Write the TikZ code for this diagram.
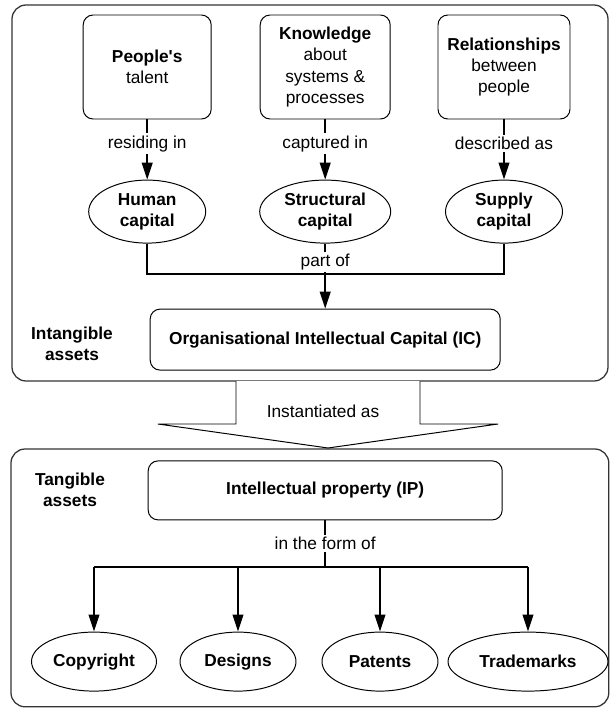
\documentclass[tikz,border=0pt]{standalone}
\usepackage{fontspec}
\setsansfont{Liberation Sans}[Ligatures=TeXOff]
\usetikzlibrary{positioning,arrows.meta,shapes.geometric,calc}

\newcommand\icfont{\fontsize{12.3}{15}\selectfont\sffamily}

\begin{document}
\begin{tikzpicture}[
      font=\icfont,
      panel/.style={draw=black!80, line width=0.9pt, rounded corners=10pt},
      src/.style={draw, line width=0.7pt, rounded corners=7pt, align=center,
                  minimum height=2.6cm, inner sep=2pt},
      wide/.style={src, minimum height=1.5cm, font=\icfont\bfseries},
      oval/.style={draw, ellipse, line width=0.7pt, align=center, inner sep=0pt,
                  font=\icfont\bfseries},
      grp/.style={align=center, font=\icfont\bfseries},
      lbl/.style={fill=white, inner sep=1.5pt},
      link/.style={line width=1.4pt},
      arr/.style={link, -{Triangle[length=12pt,width=7.5pt]}}
    ]
    \useasboundingbox (0,0) rectangle (15.25,-17.75);

    % the two groups of assets
    \draw[panel] (0.3,-0.125) rectangle (15.2,-9.525);
    \draw[panel] (0.275,-11.225) rectangle (15.22,-17.67);

    % where the capital comes from
    \node[src, minimum width=3.2cm]  (talent) at (3.68,-1.675) {\textbf{People's}\\talent};
    \node[src, minimum width=3.25cm] (know)   at (8.13,-1.675) {\textbf{Knowledge}\\about\\systems \&\\processes};
    \node[src, minimum width=3.3cm]  (rel)    at (12.6,-1.675) {\textbf{Relationships}\\between\\people};

    % kinds of capital
    \node[oval, minimum width=2.925cm, minimum height=1.575cm] (human)  at (3.68,-5.29) {Human\\capital};
    \node[oval, minimum width=3.275cm, minimum height=1.575cm] (struct) at (8.13,-5.29) {Structural\\capital};
    \node[oval, minimum width=2.925cm, minimum height=1.575cm] (supply) at (12.6,-5.29) {Supply\\capital};

    \foreach \a/\b/\t in {talent/human/residing in, know/struct/captured in, rel/supply/described as}
      \draw[arr] (\a) -- node[lbl, pos=0.4] {\t} (\b);

    \node[wide, minimum width=8.75cm, minimum height=1.525cm] (ic) at (8.13,-8.49)
      {Organisational Intellectual Capital (IC)};
    \node[grp] (intang) at (1.8,-8.6) {Intangible\\assets};

    \coordinate (jn) at (8.13,-6.85);
    \draw[link] (human) -- (human |- jn) -- (supply |- jn) -- (supply);
    \draw[link] (struct) -- node[lbl, pos=0.6] {part of} (jn);
    \draw[arr] (jn) -- (ic);

    % block arrow between the groups
    \draw[line width=0.7pt, fill=white] (5.9,-9.525) -- (5.9,-10.6) -- (3.95,-10.6)
      -- (8.2,-11.2) -- (12.45,-10.6) -- (10.5,-10.6) -- (10.5,-9.525);
    \node (inst) at (8.075,-10.275) {Instantiated as};

    % tangible side
    \node[wide, minimum width=8.85cm, minimum height=1.475cm] (ip) at (8.13,-12.26)
      {Intellectual property (IP)};
    \node[grp] (tang) at (1.75,-12.25) {Tangible\\assets};

    \node[oval, minimum width=3.125cm, minimum height=1.475cm] (copy)   at (2.35,-16.54) {Copyright};
    \node[oval, minimum width=2.9cm,   minimum height=1.475cm] (design) at (5.95,-16.54) {Designs};
    \node[oval, minimum width=2.9cm,   minimum height=1.475cm] (patent) at (9.5,-16.54)  {Patents};
    \node[oval, minimum width=4.0cm,   minimum height=1.475cm] (trade)  at (13.2,-16.54) {Trademarks};

    \coordinate (fork) at (8.13,-14.175);
    \draw[link] (ip) -- node[lbl] {in the form of} (fork);
    \draw[link] (copy.north |- fork) -- (trade.north |- fork);
    \foreach \n in {copy,design,patent,trade}
      \draw[arr] (\n.north |- fork) -- (\n.north);
  \end{tikzpicture}
\end{document}
